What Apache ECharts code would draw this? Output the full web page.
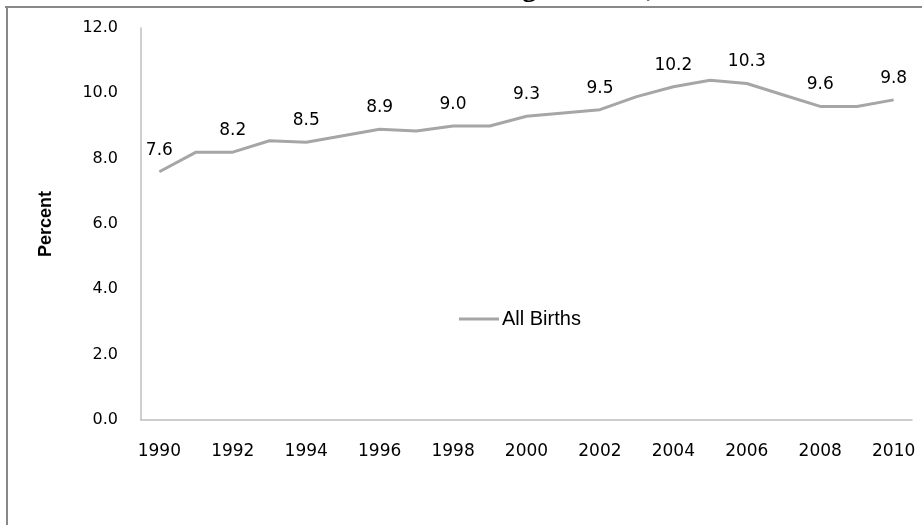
<!DOCTYPE html>
<html>
<head>
<meta charset="utf-8">
<script src="https://cdn.jsdelivr.net/npm/echarts@6/dist/echarts.min.js"></script>
<style>html,body{margin:0;padding:0;background:#fff;}#c{width:922px;height:525px;}</style>
</head>
<body>
<div id="c"></div>
<script>
const years = ['1990','1991','1992','1993','1994','1995','1996','1997','1998','1999','2000','2001','2002','2003','2004','2005','2006','2007','2008','2009','2010'];
const allBirths = [7.6, 8.2, 8.2, 8.55, 8.5, 8.7, 8.9, 8.85, 9.0, 9.0, 9.3, 9.4, 9.5, 9.9, 10.2, 10.4, 10.3, 9.95, 9.6, 9.6, 9.8];
const labeledYears = ['1990','1992','1994','1996','1998','2000','2002','2004','2006','2008','2010'];
const yTicks = [0, 2, 4, 6, 8, 10, 12];
const titleText = 'Percent of Low Birthweight Births, 1990-2010';

const chart = echarts.init(document.getElementById('c'));
const seriesData = allBirths.map((v, i) => ({
  value: v,
  label: { show: labeledYears.includes(years[i]) }
}));
chart.setOption({
  animation: false,
  backgroundColor: '#fff',
  grid: { left: 141, right: 10, top: 28, bottom: 105, containLabel: false },
  legend: {
    data: ['All Births'],
    left: 454, top: 304,
    itemWidth: 40, itemHeight: 10, itemGap: 4,
    textStyle: { fontFamily: 'Liberation Sans', fontSize: 20, color: '#000', padding: [0,0,0,-2] },
    icon: 'path://M0,4 L40,4 L40,7 L0,7 Z',
    itemStyle: { color: '#a6a6a6' }
  },
  xAxis: {
    type: 'category',
    data: years,
    boundaryGap: true,
    axisLine: { lineStyle: { color: '#bfbfbf', width: 1.5 } },
    axisTick: { show: false },
    axisLabel: { interval: 1, margin: 23, color: '#000', fontFamily: 'DejaVu Sans', fontSize: 17 }
  },
  yAxis: {
    type: 'value',
    min: yTicks[0], max: yTicks[yTicks.length - 1], interval: 2,
    name: 'Percent', nameLocation: 'middle', nameGap: 86, nameRotate: 90,
    nameTextStyle: { fontFamily: 'Liberation Sans', fontWeight: 'bold', fontSize: 18, color: '#000' },
    axisLine: { show: true, lineStyle: { color: '#bfbfbf', width: 1.5 } },
    axisTick: { show: false },
    splitLine: { show: false },
    axisLabel: { margin: 23, color: '#000', fontFamily: 'DejaVu Sans', fontSize: 16, formatter: v => v.toFixed(1) }
  },
  series: [{
    name: 'All Births',
    type: 'line',
    data: seriesData,
    symbol: 'circle',
    symbolSize: 0,
    showSymbol: true,
    showAllSymbol: true,
    lineStyle: { color: '#a6a6a6', width: 3 },
    itemStyle: { color: '#a6a6a6' },
    label: { position: 'top', distance: 13, color: '#000', fontFamily: 'DejaVu Sans', fontSize: 17, formatter: p => p.value.toFixed(1) },
    labelLayout: { hideOverlap: false }
  }],
  graphic: [
    { type: 'text', left: 219, top: -26, style: { text: titleText, font: 'bold 29px "Liberation Serif"', fill: '#000' }, z: 1 },
    { type: 'line', shape: { x1: 5, y1: 7, x2: 922, y2: 7 }, style: { stroke: '#888', lineWidth: 2 }, z: 3 },
    { type: 'line', shape: { x1: 7, y1: 7, x2: 7, y2: 525 }, style: { stroke: '#888', lineWidth: 2 }, z: 3 },
    { type: 'rect', shape: { x: 0, y: 8, width: 922, height: 12 }, style: { fill: '#fff' }, z: 2, silent: true }
  ]
});
</script>
</body>
</html>
